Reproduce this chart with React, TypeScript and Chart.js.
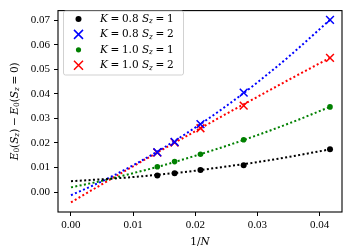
import React, { useEffect, useRef } from "react";
import { Chart, registerables } from "chart.js";

Chart.register(...registerables);

// 1/N values of the simulated sizes
const invN = [0.04167, 0.02778, 0.02083, 0.01667, 0.01389];
// measured gaps
const k08s1 = [0.0174, 0.0109, 0.009, 0.0077, 0.0067];
const k08s2 = [0.0702, 0.0405, 0.0277, 0.0204, 0.0162];
const k10s1 = [0.0347, 0.0213, 0.0154, 0.0124, 0.0103];
const k10s2 = [0.0547, 0.0352, 0.026, 0.0202, 0.0161];

// extrapolation curves
const fitX = [0, 0.005, 0.01, 0.015, 0.02, 0.025, 0.03, 0.035, 0.04167];
const fitK08S1 = [0.0044, 0.0052, 0.0061, 0.0073, 0.0087, 0.0104, 0.0122, 0.0143, 0.0174];
const fitK08S2 = [-0.0013, 0.0044, 0.0109, 0.0182, 0.0263, 0.0351, 0.0447, 0.0551, 0.0702];
const fitK10S1 = [0.0019, 0.0046, 0.0077, 0.011, 0.0148, 0.0188, 0.0232, 0.0279, 0.0347];
const fitK10S2 = [-0.0042, 0.0032, 0.0105, 0.0177, 0.0248, 0.0319, 0.0388, 0.0457, 0.0547];

const xTicks = [0, 0.01, 0.02, 0.03, 0.04];
const yTicks = [0, 0.01, 0.02, 0.03, 0.04, 0.05, 0.06, 0.07];

const legendLabels = [
  { K: "0.8", S: "1", color: "#000000", style: "circle", r: 3 },
  { K: "0.8", S: "2", color: "#0000ff", style: "cross", r: 5 },
  { K: "1.0", S: "1", color: "#008000", style: "circle", r: 2.6 },
  { K: "1.0", S: "2", color: "#ff0000", style: "cross", r: 5 },
];

const FONT = "'Liberation Serif', 'DejaVu Serif', serif";
const MFONT = "'DejaVu Serif', serif";
const FS = 11;

type Seg = { t: string; it?: boolean; sub?: boolean };

function setSegFont(ctx: CanvasRenderingContext2D, s: Seg, size: number) {
  const sz = s.sub ? size * 0.7 : size;
  ctx.font = `${s.it ? "italic " : ""}${sz}px ${MFONT}`;
}

function drawRich(
  ctx: CanvasRenderingContext2D,
  segs: Seg[],
  x: number,
  y: number,
  align: "left" | "center",
  size: number
) {
  let total = 0;
  segs.forEach((s) => {
    setSegFont(ctx, s, size);
    total += ctx.measureText(s.t).width;
  });
  let cx = align === "center" ? x - total / 2 : x;
  ctx.textBaseline = "middle";
  ctx.textAlign = "left";
  for (const s of segs) {
    setSegFont(ctx, s, size);
    const w = ctx.measureText(s.t).width;
    ctx.fillText(s.t, cx, s.sub ? y + 2.5 : y);
    cx += w;
  }
}

function pairs(xs: number[], ys: number[]) {
  return xs.map((x, i) => ({ x, y: ys[i] }));
}

const SP = "\u2005";

const decorPlugin = {
  id: "decor",
  afterDraw(chart: any) {
    const ctx: CanvasRenderingContext2D = chart.ctx;
    const a = chart.chartArea;
    ctx.save();
    // frame
    ctx.strokeStyle = "#000";
    ctx.lineWidth = 1.1;
    ctx.strokeRect(a.left, a.top, a.right - a.left, a.bottom - a.top);

    // legend box
    const bx = 63.5, by = 11, bw = 120, bh = 64;
    ctx.beginPath();
    const rr = 2;
    ctx.moveTo(bx + rr, by);
    ctx.lineTo(bx + bw - rr, by);
    ctx.quadraticCurveTo(bx + bw, by, bx + bw, by + rr);
    ctx.lineTo(bx + bw, by + bh - rr);
    ctx.quadraticCurveTo(bx + bw, by + bh, bx + bw - rr, by + bh);
    ctx.lineTo(bx + rr, by + bh);
    ctx.quadraticCurveTo(bx, by + bh, bx, by + bh - rr);
    ctx.lineTo(bx, by + rr);
    ctx.quadraticCurveTo(bx, by, bx + rr, by);
    ctx.closePath();
    ctx.fillStyle = "rgba(255,255,255,0.8)";
    ctx.fill();
    ctx.strokeStyle = "rgba(204,204,204,0.9)";
    ctx.lineWidth = 1;
    ctx.stroke();

    legendLabels.forEach((l, i) => {
      const cy = 19 + i * 15.4;
      const mx = 78.5;
      ctx.fillStyle = l.color;
      ctx.strokeStyle = l.color;
      if (l.style === "circle") {
        ctx.beginPath();
        ctx.arc(mx, cy, l.r, 0, Math.PI * 2);
        ctx.fill();
      } else {
        ctx.lineWidth = 1.5;
        ctx.beginPath();
        ctx.moveTo(mx - 4.5, cy - 4.5);
        ctx.lineTo(mx + 4.5, cy + 4.5);
        ctx.moveTo(mx + 4.5, cy - 4.5);
        ctx.lineTo(mx - 4.5, cy + 4.5);
        ctx.stroke();
      }
      ctx.fillStyle = "#000";
      drawRich(
        ctx,
        [
          { t: "K", it: true },
          { t: SP + "=" + SP + l.K + " " },
          { t: "S", it: true },
          { t: "z", it: true, sub: true },
          { t: SP + "=" + SP + l.S },
        ],
        100,
        cy,
        "left",
        10.5
      );
    });

    // x title
    ctx.fillStyle = "#000";
    drawRich(ctx, [{ t: "1/" }, { t: "N", it: true }], (a.left + a.right) / 2, 242.5, "center", 10.5);

    // y title
    ctx.translate(15, (a.top + a.bottom) / 2);
    ctx.rotate(-Math.PI / 2);
    drawRich(
      ctx,
      [
        { t: "E", it: true },
        { t: "0", sub: true },
        { t: "(" },
        { t: "S", it: true },
        { t: "z", it: true, sub: true },
        { t: ")" + SP + "−" + SP },
        { t: "E", it: true },
        { t: "0", sub: true },
        { t: "(" },
        { t: "S", it: true },
        { t: "z", it: true, sub: true },
        { t: SP + "=" + SP + "0)" },
      ],
      0,
      0,
      "center",
      10.5
    );
    ctx.restore();
  },
};

export default function App() {
  const ref = useRef<HTMLCanvasElement>(null);
  useEffect(() => {
    if (!ref.current) return;
    const lineDs = (ys: number[], color: string) => ({
      type: "line" as const,
      data: pairs(fitX, ys),
      borderColor: color,
      borderWidth: 2,
      borderDash: [2, 2.4],
      pointRadius: 0,
      fill: false,
      tension: 0.4,
      cubicInterpolationMode: "monotone" as const,
      order: 10,
    });
    const ptDs = (ys: number[], color: string, style: string, r: number) => ({
      type: "scatter" as const,
      data: pairs(invN, ys),
      backgroundColor: color,
      borderColor: color,
      pointStyle: style,
      pointRadius: r,
      borderWidth: style === "crossRot" ? 1.5 : 0,
      order: 1,
    });
    const tickFont = { family: FONT, size: FS };
    const chart = new Chart(ref.current, {
      type: "scatter",
      data: {
        datasets: [
          lineDs(fitK08S1, "#000000"),
          lineDs(fitK08S2, "#0000ff"),
          lineDs(fitK10S1, "#008000"),
          lineDs(fitK10S2, "#ff0000"),
          ptDs(k08s1, "#000000", "circle", 3),
          ptDs(k08s2, "#0000ff", "crossRot", 5.5),
          ptDs(k10s1, "#008000", "circle", 2.8),
          ptDs(k10s2, "#ff0000", "crossRot", 5.5),
        ] as any,
      },
      options: {
        responsive: false,
        animation: false,
        layout: { padding: { top: 5, right: 8, left: 0, bottom: 0 } },
        plugins: { legend: { display: false }, tooltip: { enabled: false } },
        scales: {
          x: {
            type: "linear",
            min: -0.00209,
            max: 0.0436,
            afterFit: (s: any) => {
              s.height = 38;
            },
            afterBuildTicks: (s: any) => {
              s.ticks = xTicks.map((v) => ({ value: v }));
            },
            ticks: {
              color: "#000",
              font: tickFont,
              padding: 3,
              maxRotation: 0,
              callback: (v: any) => Number(v).toFixed(2),
            },
            grid: { drawOnChartArea: false, drawTicks: true, tickLength: 4, color: "#000", lineWidth: 1 },
            border: { display: false },
          },
          y: {
            type: "linear",
            min: -0.00814,
            max: 0.07395,
            afterFit: (s: any) => {
              s.width = 58;
            },
            afterBuildTicks: (s: any) => {
              s.ticks = yTicks.map((v) => ({ value: v }));
            },
            ticks: {
              color: "#000",
              font: tickFont,
              padding: 4,
              callback: (v: any) => Number(v).toFixed(2),
            },
            grid: { drawOnChartArea: false, drawTicks: true, tickLength: 4, color: "#000", lineWidth: 1 },
            border: { display: false },
          },
        },
      },
      plugins: [decorPlugin],
    });
    return () => chart.destroy();
  }, []);
  return (
    <div style={{ position: "absolute", left: 0, top: 0, width: 350, height: 250, background: "#fff" }}>
      <canvas ref={ref} width={350} height={250} style={{ display: "block", width: 350, height: 250 }} />
    </div>
  );
}
